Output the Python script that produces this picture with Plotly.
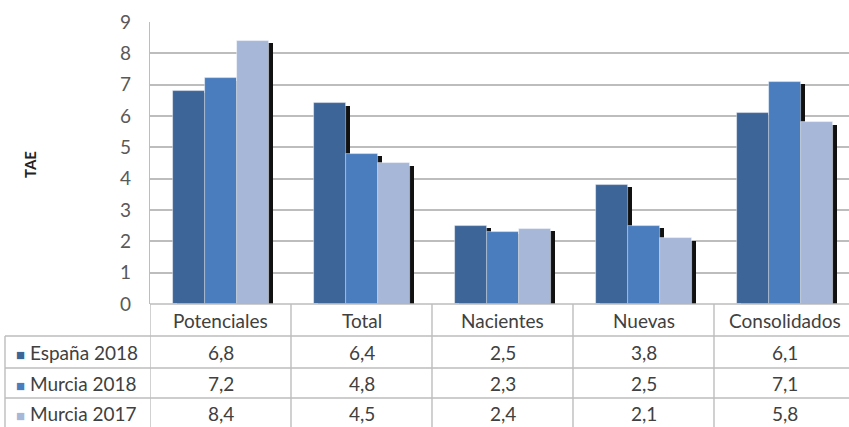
import plotly.graph_objects as go

categories = ["Potenciales", "Total", "Nacientes", "Nuevas", "Consolidados"]
series_names = ["España 2018", "Murcia 2018", "Murcia 2017"]
espana_2018 = [6.8, 6.4, 2.5, 3.8, 6.1]
murcia_2018 = [7.2, 4.8, 2.3, 2.5, 7.1]
murcia_2017 = [8.4, 4.5, 2.4, 2.1, 5.8]
y_ticks = [0, 1, 2, 3, 4, 5, 6, 7, 8, 9]

series_values = [espana_2018, murcia_2018, murcia_2017]
colors = ["#3d6597", "#4a7dbd", "#a7b7d8"]

FONT = "Lato, 'Open Sans', sans-serif"
TEXT = "#404040"
GRID = "#bdbdbd"
TSIZE = 19

# geometry (pixels)
W, H = 849, 427
ML, MT, MB = 150, 22, 123
plot_w = W - ML
plot_h = H - MT - MB
cat_px = 141.0

bar_w = 0.227
offsets = [-0.34, -0.113, 0.114]
shadow_dx = 4.0 / cat_px
shadow_dy = 2.5 * 9 / plot_h

xs = list(range(len(categories)))
fig = go.Figure()

# shadows first (behind)
for vals, off in zip(series_values, offsets):
    fig.add_trace(go.Bar(
        x=xs, y=[v - shadow_dy for v in vals], width=bar_w, offset=off + shadow_dx,
        marker=dict(color="#111111", line=dict(width=0)), showlegend=False, hoverinfo="skip"))

for name, vals, off, col in zip(series_names, series_values, offsets, colors):
    fig.add_trace(go.Bar(
        x=xs, y=vals, width=bar_w, offset=off, name=name,
        marker=dict(color=col, line=dict(width=0.8, color="rgba(255,255,255,0.55)")),
        showlegend=False))

def py_to_paper(py):
    return -(py - (MT + plot_h)) / plot_h

def px_to_paper(px):
    return (px - ML) / plot_w

shapes = []
annotations = []
line = dict(color=GRID, width=1.4)

# axis line / top of table
shapes.append(dict(type="line", xref="paper", yref="paper",
                   x0=0, x1=1.05, y0=0, y1=0, line=line))
# horizontal table lines
for py in [336, 368, 398]:
    shapes.append(dict(type="line", xref="paper", yref="paper",
                       x0=px_to_paper(5), x1=1.05, y0=py_to_paper(py), y1=py_to_paper(py), line=line))
# vertical lines at category boundaries
for i in range(len(categories) + 1):
    shapes.append(dict(type="line", xref="x", yref="paper",
                       x0=i - 0.5, x1=i - 0.5, y0=0, y1=py_to_paper(430), line=line))
# left border of row-label column
shapes.append(dict(type="line", xref="paper", yref="paper",
                   x0=px_to_paper(5), x1=px_to_paper(5), y0=py_to_paper(336), y1=py_to_paper(430), line=line))

# header labels
for i, c in enumerate(categories):
    annotations.append(dict(x=i, y=py_to_paper(320), xref="x", yref="paper", text=c,
                            xanchor="center", yanchor="middle",
                            showarrow=False, font=dict(size=TSIZE, color=TEXT, family=FONT)))

row_y = [352, 383, 413]
for name, vals, col, ry in zip(series_names, series_values, colors, row_y):
    annotations.append(dict(x=px_to_paper(14), y=py_to_paper(ry), xref="paper", yref="paper",
                            xanchor="left", yanchor="middle",
                            text=f"<span style='color:{col};font-size:15px'>■</span> {name}",
                            showarrow=False, font=dict(size=TSIZE, color=TEXT, family=FONT)))
    for i, v in enumerate(vals):
        annotations.append(dict(x=i, y=py_to_paper(ry), xref="x", yref="paper",
                                xanchor="center", yanchor="middle",
                                text=f"{v:.1f}".replace(".", ","),
                                showarrow=False, font=dict(size=TSIZE, color=TEXT, family=FONT)))

annotations.append(dict(x=px_to_paper(30), y=py_to_paper(165), xref="paper", yref="paper",
                        text="<b>TAE</b>", xanchor="center", yanchor="middle",
                        textangle=-90, showarrow=False, font=dict(size=15, color="#222222", family=FONT)))

fig.update_layout(
    width=W, height=H,
    margin=dict(l=ML, r=0, t=MT, b=MB),
    paper_bgcolor="white", plot_bgcolor="white",
    barmode="overlay",
    bargap=0,
    font=dict(family=FONT, color=TEXT),
    shapes=shapes, annotations=annotations,
    xaxis=dict(range=[-0.5, -0.5 + plot_w / cat_px], showticklabels=False, showgrid=False,
               zeroline=False, showline=False, fixedrange=True),
    yaxis=dict(range=[0, 9], tickvals=y_ticks, showgrid=True, gridcolor=GRID, gridwidth=1.6,
               zeroline=False, showline=True, linecolor=GRID, linewidth=1.4,
               tickfont=dict(size=19, color="#595959", family=FONT), ticklabelstandoff=14,
               fixedrange=True),
)

fig.write_html("out.html", config={"displayModeBar": False},
               post_script="document.body.style.margin='0';document.body.style.padding='0';")
